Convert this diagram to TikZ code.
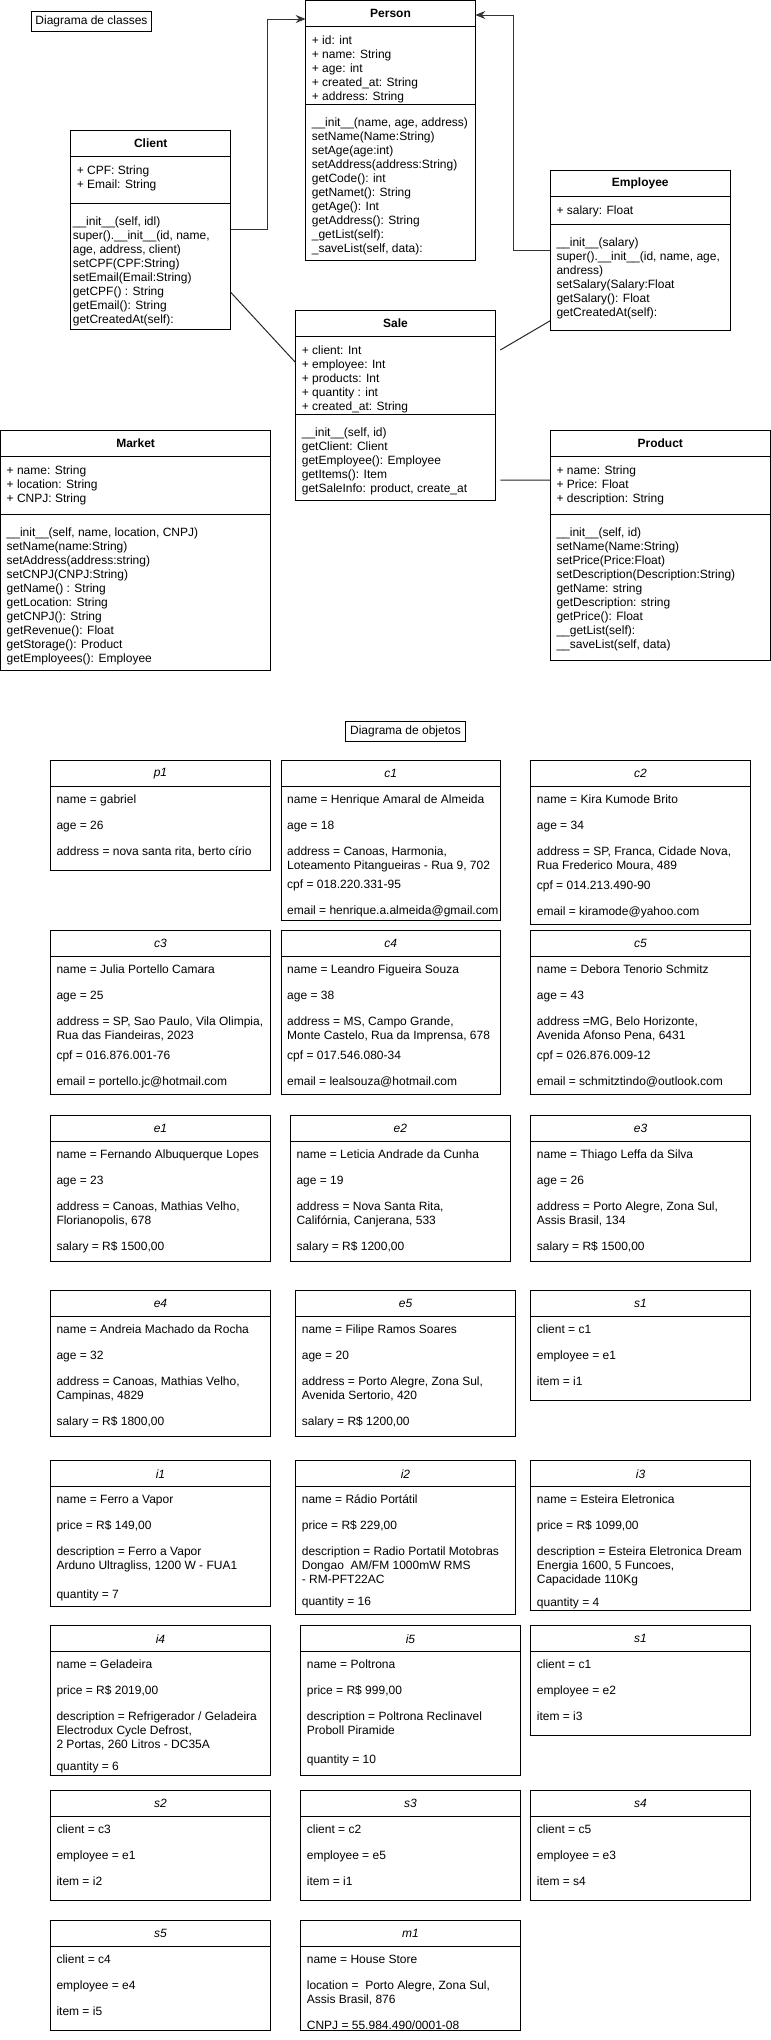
\documentclass[tikz,border=0pt]{standalone}
\usepackage{fontspec}
\setmainfont{Liberation Sans}
\usepackage{tikz}
\usetikzlibrary{arrows.meta,positioning,calc,fit}

% gap between two fields of an object
\newcommand{\fgap}{\\[12pt]}
% class box: name, top-left, width, attr height, method height, title, attributes, methods
\newcommand{\umlclass}[8]{%
  \node[clshead, minimum width=#3] (#1-h) at (#2) {\bfseries #6};
  \node[clspart, minimum width=#3, minimum height=#4] (#1-a) at (#1-h.south west) {};
  \node[clspart, minimum width=#3, minimum height=#5] (#1-m) at (#1-a.south west) {};
  \node[txt] at ($(#1-a.north west)+(6,8)$) {\strut#7};
  \node[txt] at ($(#1-m.north west)+(6,12)$) {\strut#8};
  \node[fit=(#1-h)(#1-m), inner sep=0pt, outer sep=0pt] (#1) {};
}
% object box: name, top-left, width, height, title, fields
\newcommand{\objbox}[6]{%
  \node[objhead, minimum width=#3] (#1-h) at (#2) {\itshape #5};
  \node[objpart, minimum width=#3, minimum height={#4-26}] (#1) at (#1-h.south west) {};
  \node[txt] at ($(#1.north west)+(6,7.2)$) {\strut#6};
}

\begin{document}
\begin{tikzpicture}[
      x=1pt, y=-1pt,
      every node/.style={font=\fontsize{12}{14}\selectfont},
      clshead/.style={rectangle, draw, line width=1pt, anchor=north west,
                      minimum height=26pt, inner sep=0pt, outer sep=0pt},
      clspart/.style={rectangle, draw, line width=1pt, anchor=north west,
                      inner sep=0pt, outer sep=0pt},
      objhead/.style={clshead},
      objpart/.style={clspart},
      txt/.style={anchor=north west, align=left, inner sep=0pt},
      lbl/.style={rectangle, draw, line width=1pt, anchor=north west,
                  minimum width=120pt, minimum height=20pt, inner sep=0pt},
      arr/.style={-{Stealth[length=10pt,width=8pt]}, line width=1pt, black!80},
      conn/.style={line width=1pt, black!85},
    ]
    \useasboundingbox (0,0) rectangle (771,2040);

    % Class diagram
    \node[lbl] (classes) at (31,11) {Diagrama de classes};

    \umlclass{person}{305.7,0.7}{169.6}{77.6}{155.7}{Person}
      {+ id: int\\ + name: String\\ + age: int\\ + created\_at: String\\ + address: String}
      {\_\_init\_\_(name, age, address)\\ setName(Name:String)\\ setAge(age:int)\\
       setAddress(address:String)\\ getCode(): int\\ getNamet(): String\\ getAge(): Int\\
       getAddress(): String\\ \_getList(self):\\ \_saveList(self, data):}
    \umlclass{client}{70.7,130}{160}{47.3}{126}{Client}
      {+ CPF: String\\ + Email: String}
      {\hspace*{-4pt}\_\_init\_\_(self, idl)\\ \hspace*{-4pt}super().\_\_init\_\_(id, name,\\
       \hspace*{-4pt}age, address, client)\\ \hspace*{-4pt}setCPF(CPF:String)\\
       \hspace*{-4pt}setEmail(Email:String)\\ \hspace*{-4pt}getCPF() : String\\
       \hspace*{-4pt}getEmail(): String\\ \hspace*{-4pt}getCreatedAt(self):}
    \umlclass{employee}{550.3,170.7}{180}{27.6}{105.7}{Employee}
      {+ salary: Float}
      {\_\_init\_\_(salary)\\ super().\_\_init\_\_(id, name, age,\\ andress)\\
       setSalary(Salary:Float\\ getSalary(): Float\\ getCreatedAt(self):}
    \umlclass{sale}{295.7,310.7}{199.6}{77.6}{85.7}{Sale}
      {+ client: Int\\ + employee: Int\\ + products: Int\\ + quantity : int\\ + created\_at: String}
      {\_\_init\_\_(self, id)\\ getClient: Client\\ getEmployee(): Employee\\
       getItems(): Item\\ getSaleInfo: product, create\_at}
    \umlclass{market}{0.5,430.7}{270.2}{57.6}{155.7}{Market}
      {+ name: String\\ + location: String\\ + CNPJ: String}
      {\_\_init\_\_(self, name, location, CNPJ)\\ setName(name:String)\\
       setAddress(address:string)\\ setCNPJ(CNPJ:String)\\ getName() : String\\
       getLocation: String\\ getCNPJ(): String\\ getRevenue(): Float\\
       getStorage(): Product\\ getEmployees(): Employee}
    \umlclass{product}{550.3,430.7}{220}{57.6}{145.7}{Product}
      {+ name: String\\ + Price: Float\\ + description: String}
      {\_\_init\_\_(self, id)\\ setName(Name:String)\\ setPrice(Price:Float)\\
       setDescription(Description:String)\\ getName: string\\ getDescription: string\\
       getPrice(): Float\\ \_\_getList(self):\\ \_\_saveList(self, data)}

    % Inheritance
    \draw[arr] (client.east) -- ++(37,0) |- ($(person-h.west)+(0,5.3)$);
    \draw[arr] (employee.west) -- ++(-37,0) |- ($(person-h.east)+(0,1.3)$);

    % Associations
    \draw[conn] ($(client.south east)+(0,-37)$) -- ($(sale.north west)+(0,52)$);
    \draw[conn] ($(employee.south west)+(0,-9.3)$) -- ($(sale.north east)+(5,39.3)$);
    \draw[conn] ($(sale.south east)+(5,-20)$) -- ($(product.north west)+(0,49.3)$);

    % Object diagram
    \node[lbl] (objects) at (345,721) {Diagrama de objetos};

    % People
    \objbox{p1}{50.3,760.7}{220.4}{109.3}{p1}
      {name = gabriel\fgap age = 26\fgap address = nova santa rita, berto círio}
    \objbox{c1}{281,760.7}{219.3}{159.3}{c1}
      {name = Henrique Amaral de Almeida\fgap age = 18\fgap address = Canoas, Harmonia,\\
       Loteamento Pitangueiras - Rua 9, 702\\[4.3pt] cpf = 018.220.331-95\fgap
       email = henrique.a.almeida@gmail.com}
    \objbox{c2}{530.7,760.7}{219.6}{163.3}{c2}
      {name = Kira Kumode Brito\fgap age = 34\fgap address = SP, Franca, Cidade Nova,\\
       Rua Frederico Moura, 489\\[6pt] cpf = 014.213.490-90\fgap email = kiramode@yahoo.com}
    \objbox{c3}{50.3,930.7}{220.4}{163.3}{c3}
      {name = Julia Portello Camara\fgap age = 25\fgap address = SP, Sao Paulo, Vila Olimpia,\\
       Rua das Fiandeiras, 2023\\[5.3pt] cpf = 016.876.001-76\fgap email = portello.jc@hotmail.com}
    \objbox{c4}{281,930.7}{219.3}{163.3}{c4}
      {name = Leandro Figueira Souza\fgap age = 38\fgap address = MS, Campo Grande,\\
       Monte Castelo, Rua da Imprensa, 678\\[5.3pt] cpf = 017.546.080-34\fgap
       email = lealsouza@hotmail.com}
    \objbox{c5}{530.7,930.7}{219.6}{163.3}{c5}
      {name = Debora Tenorio Schmitz\fgap age = 43\fgap address =MG, Belo Horizonte,\\
       Avenida Afonso Pena, 6431\\[5.3pt] cpf = 026.876.009-12\fgap
       email = schmitztindo@outlook.com}

    % Employees
    \objbox{e1}{50.3,1115.3}{220.4}{146}{e1}
      {name = Fernando Albuquerque Lopes\fgap age = 23\fgap address = Canoas, Mathias Velho,\\
       Florianopolis, 678\fgap salary = R\$ 1500,00}
    \objbox{e2}{290.3,1115.3}{220}{146}{e2}
      {name = Leticia Andrade da Cunha\fgap age = 19\fgap address = Nova Santa Rita,\\
       Califórnia, Canjerana, 533\fgap salary = R\$ 1200,00}
    \objbox{e3}{530.7,1115.3}{219.6}{146}{e3}
      {name = Thiago Leffa da Silva\fgap age = 26\fgap address = Porto Alegre, Zona Sul,\\
       Assis Brasil, 134\fgap salary = R\$ 1500,00}
    \objbox{e4}{50.3,1290.7}{220.4}{145.3}{e4}
      {name = Andreia Machado da Rocha\fgap age = 32\fgap address = Canoas, Mathias Velho,\\
       Campinas, 4829\fgap salary = R\$ 1800,00}
    \objbox{e5}{295.7,1290.7}{219.6}{145.3}{e5}
      {name = Filipe Ramos Soares\fgap age = 20\fgap address = Porto Alegre, Zona Sul,\\
       Avenida Sertorio, 420\fgap salary = R\$ 1200,00}
    \objbox{s1}{530.7,1290.7}{219.6}{109.3}{s1}
      {client = c1\fgap employee = e1\fgap item = i1}

    % Items
    \objbox{i1}{50.3,1460.7}{220.4}{145.3}{i1}
      {name = Ferro a Vapor\fgap price = R\$ 149,00\fgap description = Ferro a Vapor\\
       Arduno Ultragliss, 1200 W - FUA1\\[14.3pt] quantity = 7}
    \objbox{i2}{295.7,1460.7}{219.6}{153.3}{i2}
      {name = Rádio Portátil\fgap price = R\$ 229,00\fgap description = Radio Portatil Motobras\\
       Dongao\ \ AM/FM 1000mW RMS\\ - RM-PFT22AC\\[7.7pt] quantity = 16}
    \objbox{i3}{530.7,1460.7}{219.6}{150}{i3}
      {name = Esteira Eletronica\fgap price = R\$ 1099,00\fgap description = Esteira Eletronica Dream\\
       Energia 1600, 5 Funcoes,\\ Capacidade 110Kg\\[8.7pt] quantity = 4}
    \objbox{i4}{50.3,1625.7}{220.4}{149.3}{i4}
      {name = Geladeira\fgap price = R\$ 2019,00\fgap description = Refrigerador / Geladeira\\
       Electrodux Cycle Defrost,\\ 2 Portas, 260 Litros - DC35A\\[7.7pt] quantity = 6}
    \objbox{i5}{300.7,1625.7}{219.6}{149.3}{i5}
      {name = Poltrona\fgap price = R\$ 999,00\fgap description = Poltrona Reclinavel\\
       Proboll Piramide\\[14.3pt] quantity = 10}
    \objbox{s1b}{530.7,1625.7}{219.6}{109.3}{s1}
      {client = c1\fgap employee = e2\fgap item = i3}

    % Sales and market
    \objbox{s2}{50.3,1790.7}{220.4}{109.3}{s2}
      {client = c3\fgap employee = e1\fgap item = i2}
    \objbox{s3}{300.7,1790.7}{219.6}{109.3}{s3}
      {client = c2\fgap employee = e5\fgap item = i1}
    \objbox{s4}{530.7,1790.7}{219.6}{109.3}{s4}
      {client = c5\fgap employee = e3\fgap item = s4}
    \objbox{s5}{50.3,1920.7}{220.4}{109.3}{s5}
      {client = c4\fgap employee = e4\fgap item = i5}
    \objbox{m1}{300.7,1920.7}{219.6}{109.3}{m1}
      {name = House Store\fgap location =\ \ Porto Alegre, Zona Sul,\\
       Assis Brasil, 876\fgap CNPJ = 55.984.490/0001-08}
\end{tikzpicture}
\end{document}
